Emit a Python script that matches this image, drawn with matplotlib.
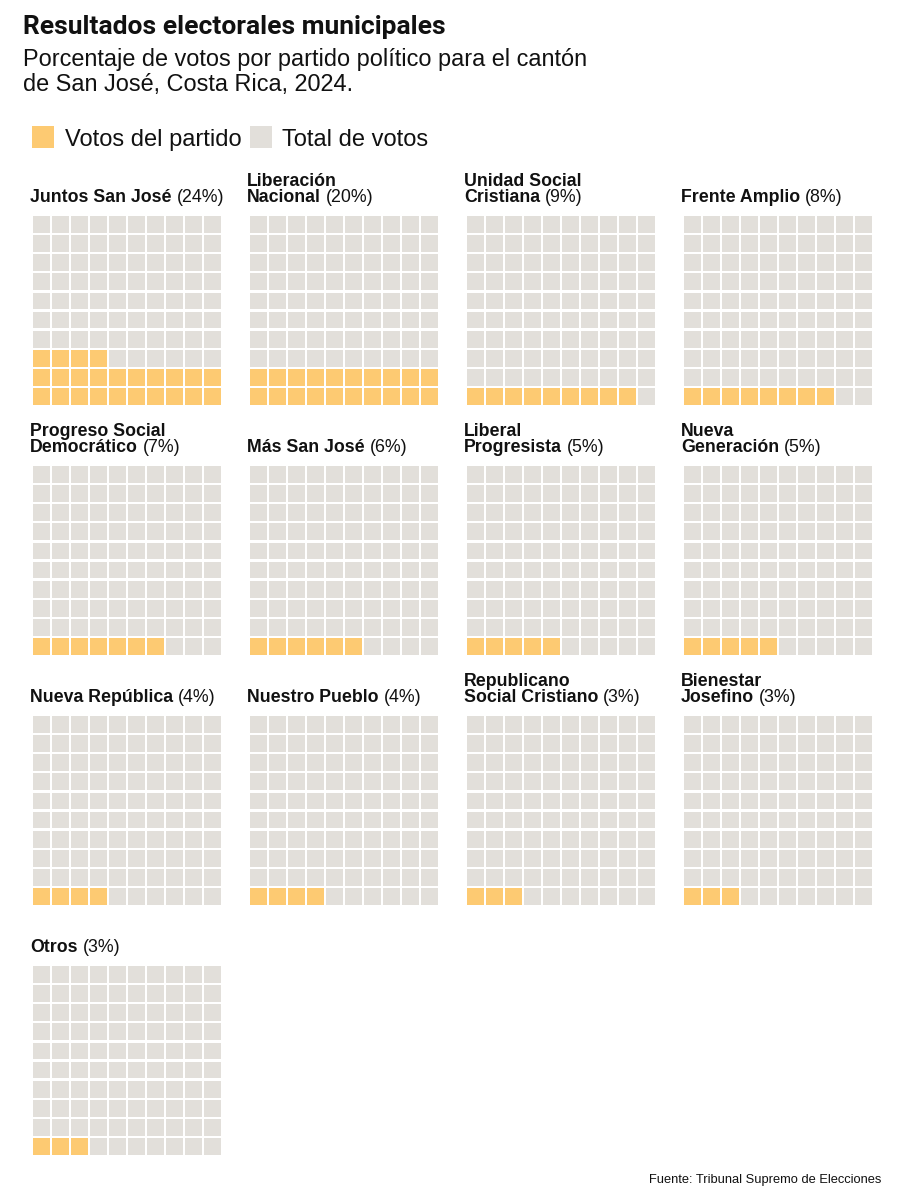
import numpy as np
import matplotlib
matplotlib.use("Agg")
import matplotlib.pyplot as plt
from matplotlib.patches import Rectangle

# data
parties = ["Juntos San José", "Liberación\nNacional", "Unidad Social\nCristiana", "Frente Amplio",
           "Progreso Social\nDemocrático", "Más San José", "Liberal\nProgresista", "Nueva\nGeneración",
           "Nueva República", "Nuestro Pueblo", "Republicano\nSocial Cristiano", "Bienestar\nJosefino",
           "Otros"]
pcts = [24, 20, 9, 8, 7, 6, 5, 5, 4, 4, 3, 3, 3]
legend_labels = ["Votos del partido", "Total de votos"]

YELLOW = "#fdca72"
GRAY = "#e2dfda"
W, H = 904, 1200

fig = plt.figure(figsize=(W / 100, H / 100), dpi=100)
fig.patch.set_facecolor("white")


def fx(x):
    return x / W


def fy(y):
    return 1 - y / H


fig.text(fx(23), fy(34), "Resultados electorales municipales", fontsize=19, fontweight="bold",
         family="Roboto", va="baseline", color="#111111")
fig.text(fx(23), fy(66), "Porcentaje de votos por partido político para el cantón",
         fontsize=16.9, family="Liberation Sans", va="baseline", color="#111111")
fig.text(fx(23), fy(90.5), "de San José, Costa Rica, 2024.",
         fontsize=16.9, family="Liberation Sans", va="baseline", color="#111111")

# legend
fig.patches.append(Rectangle((fx(32), fy(148)), fx(22), 22 / H, transform=fig.transFigure,
                             facecolor=YELLOW, edgecolor="none"))
fig.text(fx(65), fy(146), legend_labels[0], fontsize=17, family="Liberation Sans",
         va="baseline", color="#111111")
fig.patches.append(Rectangle((fx(250), fy(148)), fx(22), 22 / H, transform=fig.transFigure,
                             facecolor=GRAY, edgecolor="none"))
fig.text(fx(282), fy(146), legend_labels[1], fontsize=17, family="Liberation Sans",
         va="baseline", color="#111111")

renderer = fig.canvas.get_renderer()
cell = 0.88

for i, (name, p) in enumerate(zip(parties, pcts)):
    c, r = i % 4, i // 4
    left = 33 + 217 * c
    top = 216 + 250 * r
    ax = fig.add_axes([fx(left), fy(top + 189), fx(188), 189 / H])
    for k in range(100):
        col, row = k % 10, k // 10
        ax.add_patch(Rectangle((col, row), cell, cell,
                               facecolor=YELLOW if k < p else GRAY, edgecolor="none"))
    ax.set_xlim(0, 9 + cell)
    ax.set_ylim(0, 9 + cell)
    ax.axis("off")

    # label: bold name, regular percentage
    lines = name.split("\n")
    base = top - 14
    tx = left - 3
    for j, line in enumerate(lines):
        yb = base - 16.5 * (len(lines) - 1 - j)
        t = fig.text(fx(tx), fy(yb), line, fontsize=12.8, fontweight="bold",
                     family="Liberation Sans", va="baseline", color="#111111")
    bb = t.get_window_extent(renderer)
    fig.text(fx(bb.x1 + 5), fy(base), f"({p}%)", fontsize=12.8,
             family="Liberation Sans", va="baseline", color="#111111")

fig.text(fx(881), fy(1183), "Fuente: Tribunal Supremo de Elecciones", fontsize=9.3,
         family="Liberation Sans", ha="right", va="baseline", color="#111111")

fig.savefig("out.png", dpi=100)
